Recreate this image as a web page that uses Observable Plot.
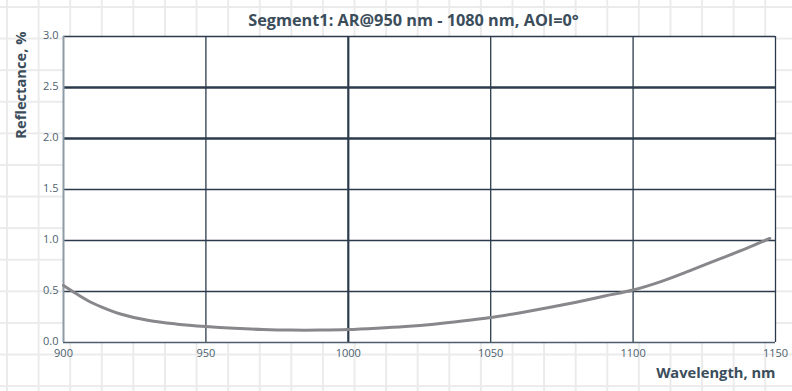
<!DOCTYPE html>
<html>
<head>
<meta charset="utf-8">
<script src="https://cdn.jsdelivr.net/npm/d3@7"></script>
<script src="https://cdn.jsdelivr.net/npm/@observablehq/plot@0.6"></script>
<style>
  html, body { margin: 0; padding: 0; }
  body {
    width: 792px; height: 391px; overflow: hidden;
    background-color: #ffffff;
    background-image:
      linear-gradient(to right, #ebebeb 2px, transparent 2px),
      linear-gradient(to bottom, #ebebeb 2px, transparent 2px);
    background-size: 31.6px 31.6px;
    background-position: 6px 6px;
  }
  #chart svg { display: block; }
</style>
</head>
<body>
<div id="chart"></div>
<script>
const title = "Segment1: AR@950 nm - 1080 nm, AOI=0°";
const xLabel = "Wavelength, nm";
const yLabel = "Reflectance, %";

const xTicks = [900, 950, 1000, 1050, 1100, 1150];
const yTicks = [0, 0.5, 1.0, 1.5, 2.0, 2.5, 3.0];
const xMajor = [1000];
const yMajor = [2.0, 2.5];

const wavelength = [900, 905, 910, 915, 920, 930, 940, 950, 960, 970, 980, 990, 1000,
  1010, 1020, 1030, 1040, 1050, 1060, 1070, 1080, 1090, 1100, 1110, 1120, 1130, 1140, 1148];
const reflectance = [0.56, 0.47, 0.39, 0.33, 0.28, 0.215, 0.18, 0.157, 0.14, 0.128, 0.122, 0.122, 0.127,
  0.14, 0.157, 0.18, 0.21, 0.245, 0.29, 0.34, 0.395, 0.455, 0.515, 0.6, 0.705, 0.815, 0.925, 1.02];

const data = wavelength.map((w, i) => ({w, r: reflectance[i]}));

const navy = "#2b3b4b";
const font = "'Open Sans', 'Lato', sans-serif";

const chart = Plot.plot({
  width: 792,
  height: 391,
  marginLeft: 63,
  marginRight: 17,
  marginTop: 36,
  marginBottom: 49,
  x: {domain: [900, 1150], axis: null},
  y: {domain: [0, 3], axis: null},
  style: {background: "transparent", fontFamily: font, overflow: "visible"},
  marks: [
    Plot.frame({fill: "white", stroke: null}),
    Plot.ruleX(xTicks.filter(d => d > 900 && !xMajor.includes(d)), {stroke: navy, strokeWidth: 1.3}),
    Plot.ruleX(xMajor, {stroke: navy, strokeWidth: 2.2}),
    Plot.ruleY(yTicks.filter(d => d > 0 && !yMajor.includes(d)), {stroke: navy, strokeWidth: 1.3}),
    Plot.ruleY(yMajor, {stroke: navy, strokeWidth: 2.4}),
    Plot.ruleY([0], {stroke: "#4c5d6b", strokeWidth: 1.5}),
    Plot.ruleX([900], {stroke: "#8c9ba6", strokeWidth: 2}),
    Plot.line(data, {x: "w", y: "r", stroke: "#88888c", strokeWidth: 3, curve: "catmull-rom"}),
    Plot.text(xTicks, {x: d => d, frameAnchor: "bottom", dy: 14, text: d => String(d),
      fill: "#4d5f6e", fontSize: 11}),
    Plot.text(yTicks, {y: d => d, frameAnchor: "left", dx: -5, dy: -1, textAnchor: "end",
      text: d => d.toFixed(1), fill: "#4d5f6e", fontSize: 11}),
    Plot.text([title], {frameAnchor: "top", dx: -6, dy: -22, text: d => d,
      fill: "#3b4d5b", fontSize: 16.3, fontWeight: "bold"}),
    Plot.text([xLabel], {frameAnchor: "bottom-right", dy: 35, textAnchor: "end", text: d => d,
      fill: "#3b4d5b", fontSize: 14.7, fontWeight: "bold"}),
    Plot.text([yLabel], {frameAnchor: "top-left", rotate: -90, dx: -48, dy: -5, textAnchor: "end",
      text: d => d, fill: "#3b4d5b", fontSize: 14.7, fontWeight: "bold"})
  ]
});
document.getElementById("chart").appendChild(chart);
</script>
</body>
</html>
